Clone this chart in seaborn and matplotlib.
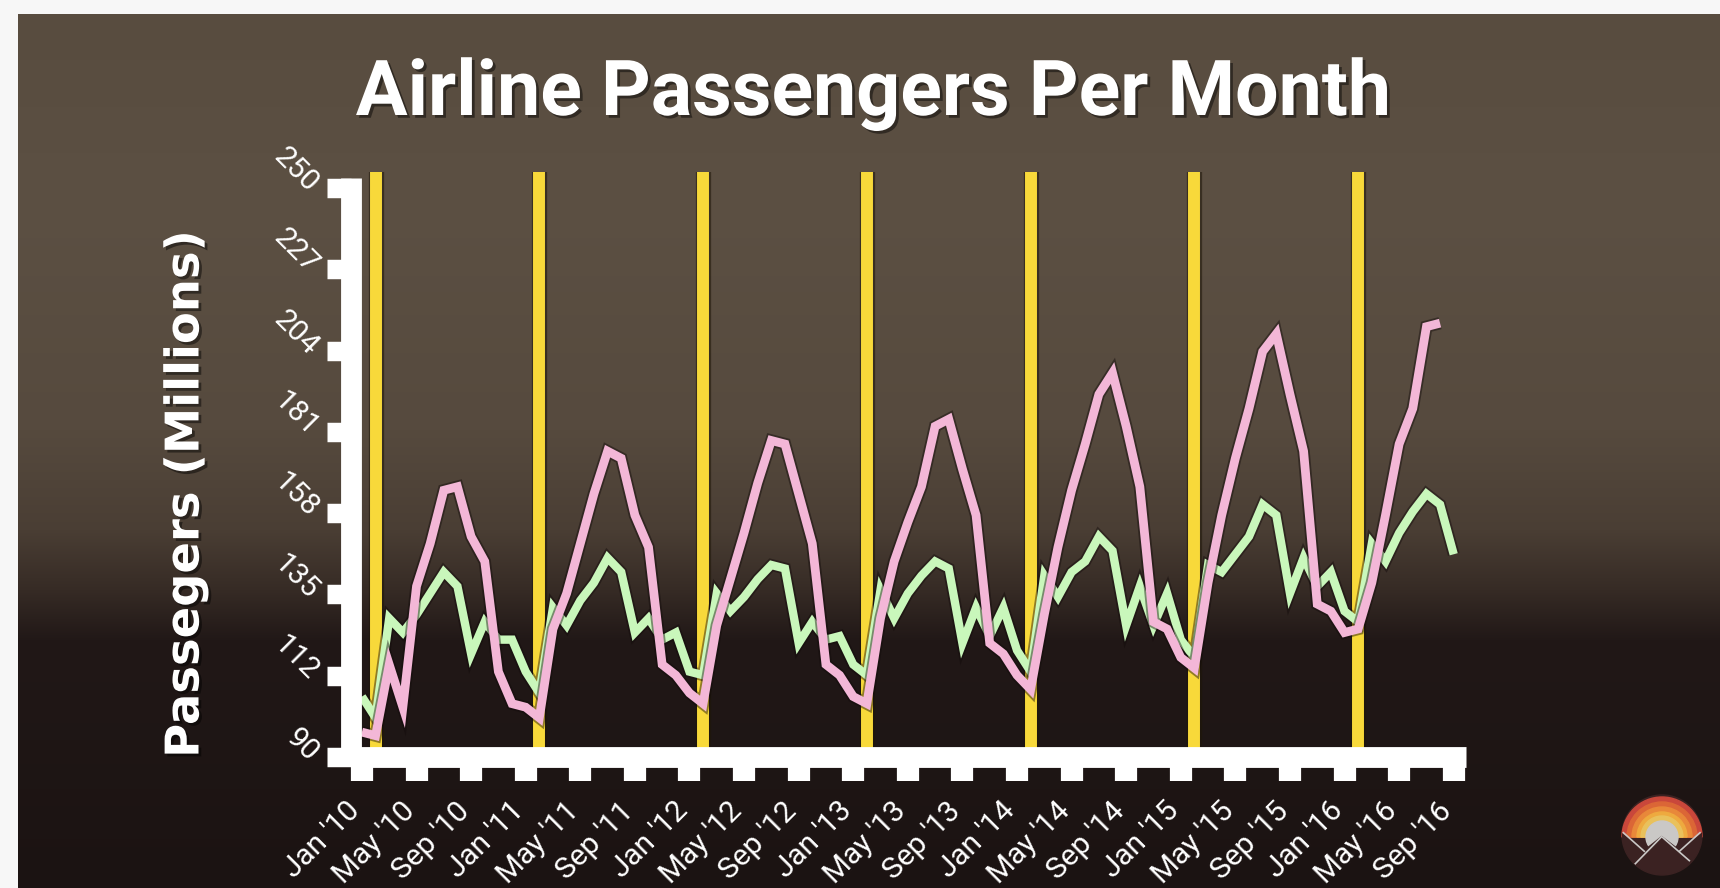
import numpy as np
import pandas as pd
import matplotlib
matplotlib.use("Agg")
import matplotlib.pyplot as plt
import matplotlib.patheffects as pe
import matplotlib.transforms as mtransforms
from matplotlib.patches import Circle, Wedge, Polygon
import seaborn as sns

# ---------------- data ----------------
month_names = ["Jan", "Feb", "Mar", "Apr", "May", "Jun",
               "Jul", "Aug", "Sep", "Oct", "Nov", "Dec"]
years = [2010, 2011, 2012, 2013, 2014, 2015, 2016]
months = [f"{m} '{str(y)[2:]}" for y in years for m in month_names][:81]  # Jan '10 .. Sep '16

pink_series = [97, 96, 116, 104, 138, 150, 165, 166, 152, 145, 114, 105,   # 2010
               104, 101, 126, 136, 150, 164, 176, 174, 158, 149, 116, 113,  # 2011
               108, 105, 127, 140, 153, 167, 179, 178, 164, 150, 116, 113,  # 2012
               107, 105, 129, 145, 156, 166, 183, 185, 171, 158, 122, 119,  # 2013
               113, 109, 130, 149, 165, 178, 192, 198, 183, 166, 128, 126,  # 2014
               118, 115, 139, 158, 174, 188, 204, 209, 192, 176, 133, 131,  # 2015
               125, 126, 139, 158, 178, 188, 211, 212]                      # 2016 Jan-Aug

green_series = [107, 101, 129, 125, 130, 136, 142, 138, 119, 128, 123, 123,  # 2010
                114, 108, 132, 127, 134, 139, 146, 142, 125, 129, 123, 125,  # 2011
                114, 113, 136, 131, 135, 140, 144, 143, 122, 128, 123, 124,  # 2012
                116, 113, 137, 129, 136, 141, 145, 143, 122, 132, 124, 132,  # 2013
                120, 114, 141, 135, 142, 145, 152, 148, 127, 138, 127, 136,  # 2014
                123, 118, 144, 142, 147, 152, 161, 158, 136, 146, 138, 142,  # 2015
                131, 128, 150, 145, 153, 159, 164, 161, 147]                 # 2016 Jan-Sep

y_tick_labels = ["90", "112", "135", "158", "181", "204", "227", "250"]
x_tick_labels = months[::4]

title_text = "Airline Passengers Per Month"
ylabel_text = "Passegers (Millions)"

# ---------------- figure ----------------
W, H = 1720, 888
fig = plt.figure(figsize=(W / 100, H / 100), dpi=100, facecolor="#f7f7f7")

# blurred photo-like background (vertical gradient)
bg = fig.add_axes([18 / W, 0, 1 - 18 / W, 1 - 14 / H])
bg.axis("off")
rows = np.arange(14, H)
stop_y = [14, 200, 430, 530, 590, 640, 888]
stop_c = ["#584c3f", "#5c5043", "#564a3e", "#4a3e34", "#362b25", "#211817", "#1b1312"]
rgb = np.array([matplotlib.colors.to_rgb(c) for c in stop_c])
img = np.stack([np.interp(rows, stop_y, rgb[:, k]) for k in range(3)], axis=-1)[:, None, :]
bg.imshow(img, aspect="auto", extent=(0, 1, 0, 1), interpolation="bilinear")

# main axes
ax = fig.add_axes([351 / W, 131 / H, 1115 / W, 585 / H])
ax.patch.set_alpha(0)

df = pd.DataFrame({
    "month": np.arange(len(months)),
    "green": green_series,
    "pink": pink_series + [np.nan] * (len(months) - len(pink_series)),
})

# yellow markers at each February
for i, m in enumerate(months):
    if m.startswith("Feb"):
        ax.axvline(i, color="#f8d93a", lw=8.6, zorder=1.5,
                   path_effects=[pe.Stroke(linewidth=11, foreground="#1e1608", alpha=0.55),
                                 pe.Normal()])

sns.lineplot(data=df, x="month", y="green", color="#c9f7bb", linewidth=6.0,
             ax=ax, legend=False)
sns.lineplot(data=df, x="month", y="pink", color="#f3b7d7", linewidth=6.3,
             ax=ax, legend=False)
for ln, lw in zip(ax.lines[-2:], [6.0, 6.3]):
    ln.set_solid_joinstyle("miter")
    ln.set_solid_capstyle("butt")
    ln.set_zorder(2)
    ln.set_path_effects([pe.Stroke(linewidth=lw + 2.6, foreground="#120a0a", alpha=0.45),
                         pe.Normal()])

ax.set_xlim(-0.8, 80.9)
ax.set_ylim(90, 254.5)
ax.set_xlabel("")
ax.set_ylabel("")

for s in ["top", "right"]:
    ax.spines[s].set_visible(False)
for s in ["left", "bottom"]:
    ax.spines[s].set_color("white")
    ax.spines[s].set_linewidth(15)
    ax.spines[s].set_capstyle("butt")
    ax.spines[s].set_zorder(3)
ax.spines["left"].set_bounds(90, 252.8)

tick_font = dict(family=["Roboto", "DejaVu Sans"], weight="normal", size=21.5, color="white")
ax.set_xticks(np.arange(0, len(months), 4))
ax.set_xticklabels(x_tick_labels, rotation=45, ha="right", va="top",
                   rotation_mode="anchor", **tick_font)
ax.set_yticks(np.linspace(90, 250, 8))
ax.set_yticklabels(y_tick_labels, rotation=-45, ha="right", va="center",
                   rotation_mode="anchor", **tick_font)
ax.tick_params(axis="x", length=17.5, width=16, color="white", pad=11)
ax.tick_params(axis="y", length=17.5, width=14, color="white", pad=9)

shift = mtransforms.ScaledTranslation(-16 / 100, 0, fig.dpi_scale_trans)
for lab in ax.get_xticklabels():
    lab.set_transform(lab.get_transform() + shift)

# title and y label
shadow = [pe.withSimplePatchShadow(offset=(2, -2), shadow_rgbFace="black", alpha=0.45)]
title = fig.text(873 / W, 1 - 115 / H, title_text, ha="center", va="baseline",
                 color="white", fontsize=56, fontweight="bold",
                 family=["Roboto", "DejaVu Sans"],
                 path_effects=shadow)
ylab = fig.text(186 / W, 1 - 494 / H, ylabel_text, rotation=90, ha="center", va="center",
                color="white", fontsize=30, fontweight="bold",
                family=["DejaVu Sans"], path_effects=shadow)

renderer = fig.canvas.get_renderer()
bb = title.get_window_extent(renderer)
title.set_fontsize(title.get_fontsize() * 1035 / bb.width)
bb = ylab.get_window_extent(renderer)
ylab.set_fontsize(ylab.get_fontsize() * 527 / bb.height)

# small round logo bottom-right
ov = fig.add_axes([0, 0, 1, 1])
ov.set_xlim(0, W)
ov.set_ylim(H, 0)
ov.axis("off")
ov.patch.set_alpha(0)
cx, cy, r = 1662, 835, 40
base = Circle((cx, cy), r, color="#3b2222", zorder=1)
ov.add_patch(base)
for rad, col in zip([40, 35, 30, 25, 21], ["#c9473b", "#db6636", "#e8883a", "#eeaa3f", "#e9c15c"]):
    ov.add_patch(Wedge((cx, cy + 2), rad, 180, 360, color=col, zorder=2))
ov.add_patch(Circle((cx, cy + 2), 16, color="#cac8c6", zorder=3))
pts = [(1600 + x / 3, 770 + y / 3) for x, y in
       [(55, 183), (132, 242), (185, 200), (240, 242), (315, 183), (315, 340), (55, 340)]]
mount = Polygon(pts, closed=True, color="#3b2222", zorder=4)
ov.add_patch(mount)
mount.set_clip_path(base)
for seg in [[(70, 188), (133, 244)], [(300, 188), (238, 244)],
            [(105, 282), (185, 200), (268, 272)]]:
    xs = [1600 + x / 3 for x, _ in seg]
    ys = [770 + y / 3 for _, y in seg]
    l, = ov.plot(xs, ys, color="#cac8c6", lw=1.2, zorder=5)
    l.set_clip_path(base)

fig.savefig("out.png", dpi=100, facecolor=fig.get_facecolor())
